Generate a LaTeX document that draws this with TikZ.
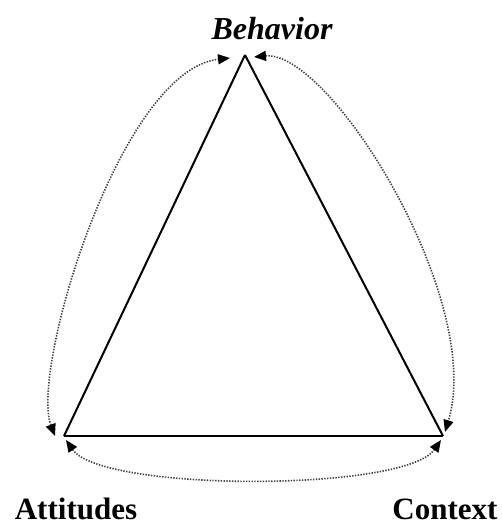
\documentclass[tikz,border=0pt]{standalone}
\usepackage{fontspec}
\setmainfont{Liberation Serif}
\usetikzlibrary{arrows.meta}
\begin{document}
\begin{tikzpicture}[x=1pt,y=-1pt,
  edge/.style={draw=black, line width=2pt, line join=miter},
  link/.style={draw=black!75, line width=1.6pt, dash pattern=on 1.4pt off 1.4pt,
    {Triangle[length=12pt,width=10pt,color=black]}-{Triangle[length=12pt,width=10pt,color=black]}},
  lbl/.style={font=\fontsize{31}{31}\selectfont\bfseries, anchor=base, inner sep=0pt}]
\useasboundingbox (0,0) rectangle (501,525);
% corners
\coordinate (B) at (245,55);
\coordinate (A) at (64,436);
\coordinate (C) at (443,436);
% ends of the curved links
\coordinate (LB) at (230,58);
\coordinate (LA) at (55,436);
\coordinate (RB) at (254,57);
\coordinate (RC) at (445,432);
\coordinate (BA) at (66,440);
\coordinate (BC) at (441,440);
% triangle
\draw[edge] (B) -- (A);
\draw[edge] (B) -- (C);
\draw[edge, line width=2.8pt] (A) -- (C);
% dotted links
\draw[link] (LA) .. controls (30,370) and (120,70) .. (LB);
\draw[link] (RB) .. controls (330,50) and (485,300) .. (RC);
\draw[link] (BA) .. controls (102,492) and (405,492) .. (BC);
% labels
\node[lbl, font=\fontsize{32}{32}\selectfont\bfseries\itshape] (beh) at (272,39) {Behavior};
\node[lbl] (att) at (76,519) {Attitudes};
\node[lbl] (ctx) at (445,519) {Context};
\end{tikzpicture}
\end{document}
